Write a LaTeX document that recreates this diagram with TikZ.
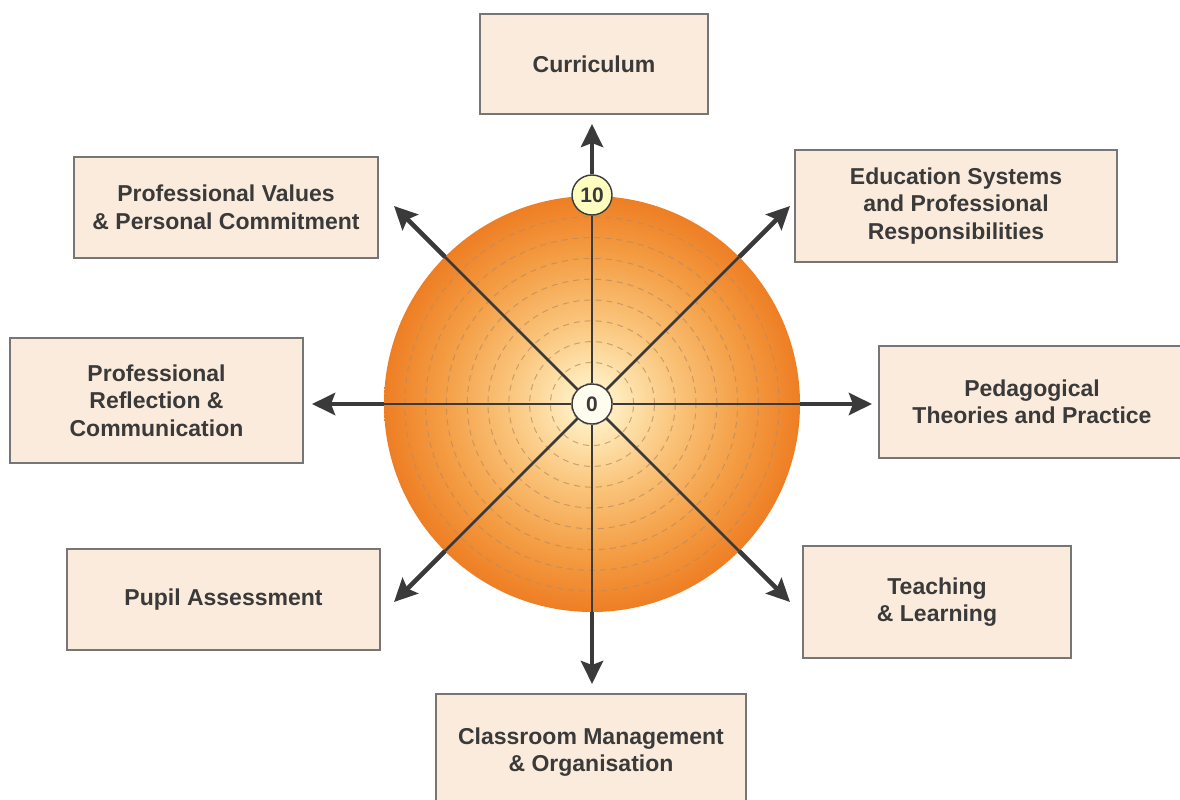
\documentclass[tikz,border=0pt]{standalone}
\usepackage{fontspec}
\setmainfont{Liberation Sans}
\usepackage{tikz}
\usetikzlibrary{arrows.meta}
\definecolor{boxfill}{HTML}{FBEBDC}
\definecolor{boxline}{HTML}{767676}
\definecolor{ink}{HTML}{3A3A3A}
\definecolor{ringline}{HTML}{B98A60}
\definecolor{ball0}{HTML}{FFFCF0}
\definecolor{ball1}{HTML}{FFEBBC}
\definecolor{ball2}{HTML}{FAC57C}
\definecolor{ball3}{HTML}{F49E45}
\definecolor{ball4}{HTML}{EE7E24}
\pgfdeclareradialshading{ball}{\pgfpoint{0bp}{0bp}}{color(0bp)=(ball0); color(3bp)=(ball1); color(10bp)=(ball2); color(18bp)=(ball3); color(25bp)=(ball4); color(50bp)=(ball4)}
\tikzset{
  topic/.style={rectangle,draw=boxline,line width=1.4pt,fill=boxfill,text=ink,
    align=center,font=\fontsize{23}{27.5}\selectfont\bfseries},
  mark0/.style={circle,draw=ink,line width=1.4pt,fill=ball0,text=ink,
    inner sep=0pt,minimum size=40pt,font=\fontsize{21}{21}\selectfont\bfseries},
  ring/.style={draw=ringline,dashed,dash pattern=on 6pt off 5pt,line width=1pt,opacity=.7},
  spoke/.style={draw=ink,line width=2.8pt},
  pointer/.style={draw=ink,line width=4.6pt,-{Stealth[length=23pt,width=22pt,inset=4pt]}}
}
\begin{document}
\begin{tikzpicture}[x=1pt,y=-1pt]
\useasboundingbox (0,0) rectangle (1180,800);
\coordinate (ctr) at (592,404);

% the dial
\shade[shading=ball] (ctr) circle (208pt);
\foreach \r in {1,...,9}
  \draw[ring] (ctr) circle ({\r*20.8pt});

\node[mark0] (zero) at (ctr) {0};
\node[mark0,fill=white!75!yellow] (ten) at (592,195) {10};

% the spokes
\foreach \a/\n in {0/E,45/NE,135/NW,180/W,225/SW,270/S,315/SE}{
  \path (ctr) ++(\a:208pt) coordinate (rim\n) ++(\a:72pt) coordinate (tip\n);
  \draw[spoke] (zero) -- (rim\n);
  \draw[pointer] (rim\n) -- (tip\n);
}
\coordinate (tipN) at (592,124);
\draw[spoke] (zero) -- (ten);
\draw[pointer] (ten) -- (tipN);

% the topics
\node[topic,minimum width=228pt,minimum height=100pt] (curr) at (594,64) {Curriculum};
\node[topic,minimum width=304pt,minimum height=101pt] (values) at (226,207.5) {Professional Values\\ \& Personal Commitment};
\node[topic,minimum width=322pt,minimum height=112pt] (edu) at (956,206) {Education Systems\\ and Professional\\ Responsibilities};
\node[topic,minimum width=293pt,minimum height=125pt] (refl) at (156.5,400.5) {Professional\\ Reflection \&\\ Communication};
\node[topic,minimum width=306pt,minimum height=112pt] (peda) at (1032,402) {Pedagogical\\ Theories and Practice};
\node[topic,minimum width=313pt,minimum height=101pt] (pupil) at (223.5,599.5) {Pupil Assessment};
\node[topic,minimum width=268pt,minimum height=112pt] (teach) at (937,602) {Teaching\\ \& Learning};
\node[topic,minimum width=310pt,minimum height=116pt] (class) at (591,752) {Classroom Management\\ \& Organisation};
\end{tikzpicture}
\end{document}
